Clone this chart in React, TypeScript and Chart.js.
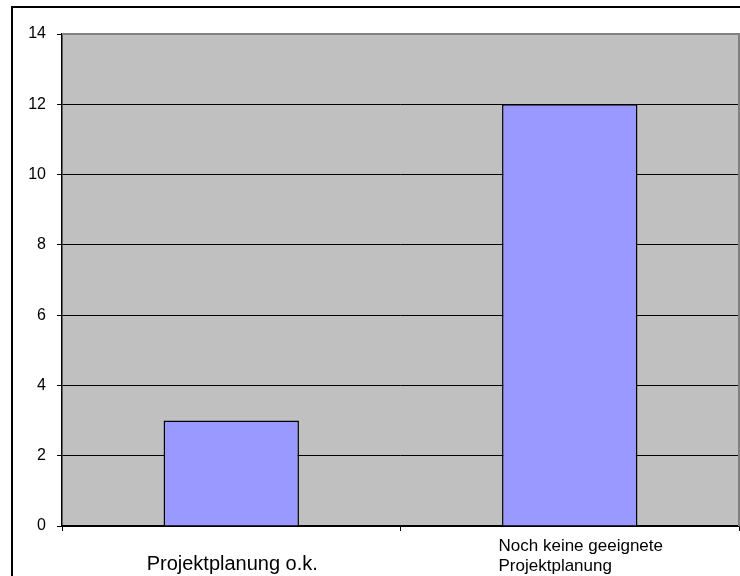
import React, { useEffect, useRef } from "react";
import { Chart, registerables } from "chart.js";

Chart.register(...registerables);

const categories: string[][] = [["Projektplanung o.k."], ["Noch keine geeignete", "Projektplanung"]];
const labelSizes = [20, 17];
const values = [3, 12];
const yMin = 0;
const yMax = 14;
const yStep = 2;

const FONT = "'Liberation Sans', Arial, sans-serif";

const framePlugin = {
  id: "frame",
  beforeDraw(chart: any) {
    const { ctx, chartArea } = chart;
    ctx.save();
    ctx.fillStyle = "#ffffff";
    ctx.fillRect(0, 0, chart.width, chart.height);
    ctx.fillStyle = "#C0C0C0";
    ctx.fillRect(chartArea.left, chartArea.top, chartArea.right - chartArea.left, chartArea.bottom - chartArea.top);
    ctx.strokeStyle = "#000";
    ctx.lineWidth = 2;
    ctx.strokeRect(12, 7, chart.width + 20, chart.height + 20);
    ctx.restore();
  },
  afterDatasetsDraw(chart: any) {
    const { ctx, chartArea } = chart;
    ctx.save();
    ctx.strokeStyle = "#808080";
    ctx.lineWidth = 2;
    ctx.beginPath();
    ctx.moveTo(chartArea.left, chartArea.top);
    ctx.lineTo(chartArea.right, chartArea.top);
    ctx.lineTo(chartArea.right, chartArea.bottom);
    ctx.stroke();
    // category labels
    const xs = chart.scales.x;
    ctx.fillStyle = "#000";
    ctx.textBaseline = "alphabetic";
    ctx.textAlign = "left";
    categories.forEach((lines, i) => {
      const cx = xs.getPixelForValue(i);
      const size = labelSizes[i];
      ctx.font = `${size}px ${FONT}`;
      const widths = lines.map((l) => ctx.measureText(l).width);
      const maxW = Math.max(...widths);
      const lineH = 20;
      const single = lines.length === 1;
      const startX = cx - maxW / 2 + (single ? 1 : 11);
      const baseY = single ? chartArea.bottom + 44 : chartArea.bottom + 25;
      lines.forEach((l, j) => {
        ctx.fillText(l, startX, baseY + j * lineH);
      });
    });
    ctx.restore();
  },
};

export default function App() {
  const ref = useRef<HTMLCanvasElement | null>(null);
  useEffect(() => {
    document.body.style.margin = "0";
    const chart = new Chart(ref.current as HTMLCanvasElement, {
      type: "bar",
      data: {
        labels: categories.map((c) => c.join(" ")),
        datasets: [
          {
            data: values,
            backgroundColor: "#9999FF",
            borderColor: "#000000",
            borderWidth: 1.5,
            barPercentage: 0.4,
            categoryPercentage: 1,
          },
        ],
      },
      options: {
        animation: false,
        responsive: false,
        maintainAspectRatio: false,
        layout: { padding: { left: 0, top: 34, right: 1, bottom: 0 } },
        plugins: { legend: { display: false }, tooltip: { enabled: false } },
        scales: {
          x: {
            afterFit: (s: any) => {
              s.height = 50;
            },
            ticks: { display: false },
            grid: {
              offset: true,
              drawOnChartArea: false,
              drawTicks: true,
              tickLength: 5,
              color: "#000",
              tickColor: "#000",
            },
            border: { display: true, color: "#000", width: 1.5 },
          },
          y: {
            min: yMin,
            max: yMax,
            afterFit: (s: any) => {
              s.width = 62;
            },
            ticks: {
              stepSize: yStep,
              color: "#000",
              padding: 11,
              font: { family: FONT, size: 16 },
            },
            grid: {
              color: (c: any) => (c.tick && c.tick.value === yMax ? "rgba(0,0,0,0)" : "#000"),
              tickColor: "#000",
              tickLength: 5,
              lineWidth: 1,
            },
            border: { display: true, color: "#000", width: 1.5 },
          },
        },
      },
      plugins: [framePlugin],
    });
    return () => chart.destroy();
  }, []);
  return (
    <div style={{ position: "relative", width: 740, height: 576 }}>
      <canvas ref={ref} width={740} height={576} style={{ display: "block" }} />
    </div>
  );
}
